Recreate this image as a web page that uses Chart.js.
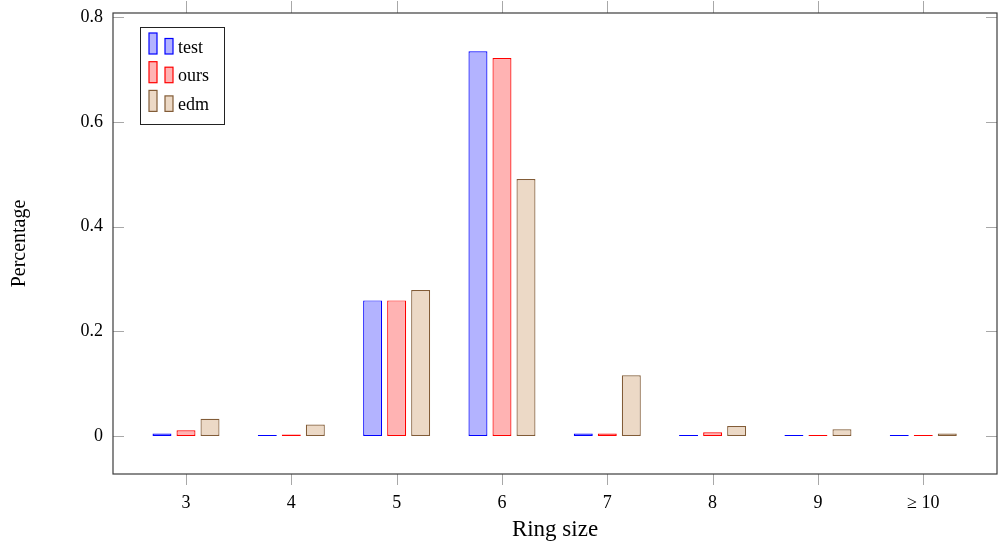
<!DOCTYPE html>
<html><head><meta charset="utf-8">
<script src="https://cdn.jsdelivr.net/npm/chart.js@4"></script>
<style>html,body{margin:0;padding:0;background:#fff}#wrap{width:998px;height:544px}</style>
</head><body><div id="wrap"><canvas id="c" width="998" height="544"></canvas></div>
<script>
const ringSizes = [3, 4, 5, 6, 7, 8, 9, 10];
const categoryLabels = ['3', '4', '5', '6', '7', '8', '9', '≥ 10'];
const testValues = [0.005, 0.001, 0.259, 0.735, 0.005, 0.001, 0.001, 0.001];
const oursValues = [0.011, 0.003, 0.259, 0.722, 0.005, 0.007, 0.001, 0.001];
const edmValues  = [0.033, 0.022, 0.279, 0.491, 0.116, 0.019, 0.013, 0.005];
const yTickValues = [0, 0.2, 0.4, 0.6, 0.8];
const yTickLabels = ['0', '0.2', '0.4', '0.6', '0.8'];
const seriesNames = ['test', 'ours', 'edm'];

const FONT = "'Liberation Serif', 'Times New Roman', serif";
const fills = ['rgb(179,179,255)', 'rgb(255,179,179)', 'rgb(236,217,198)'];
const borders = ['rgb(0,0,255)', 'rgb(255,0,0)', 'rgb(130,92,55)'];

function toPoints(vals) { return ringSizes.map((x, i) => ({ x: x, y: vals[i] })); }

const frameAndTicks = {
  id: 'frameAndTicks',
  afterDraw(chart) {
    const { ctx, chartArea: a, scales } = chart;
    ctx.save();
    ctx.strokeStyle = '#a8a8a8';
    ctx.lineWidth = 1;
    ctx.beginPath();
    yTickValues.forEach(v => {
      const y = Math.round(scales.y.getPixelForValue(v)) + 0.5;
      ctx.moveTo(a.left, y); ctx.lineTo(a.left + 11, y);
      ctx.moveTo(a.right - 11, y); ctx.lineTo(a.right, y);
    });
    ringSizes.forEach(v => {
      const x = Math.round(scales.x.getPixelForValue(v)) + 0.5;
      ctx.moveTo(x, a.top - 12); ctx.lineTo(x, a.top);
      ctx.moveTo(x, a.bottom); ctx.lineTo(x, a.bottom + 11);
    });
    ctx.stroke();
    ctx.strokeStyle = '#3c3c3c';
    ctx.lineWidth = 1.2;
    ctx.strokeRect(a.left, a.top, a.right - a.left, a.bottom - a.top);

    // legend
    const lx = a.left + 27, ly = a.top + 14;
    ctx.strokeStyle = '#222';
    ctx.lineWidth = 1;
    ctx.strokeRect(lx + 0.5, ly + 0.5, 84, 97);
    ctx.font = '18px ' + FONT;
    ctx.textBaseline = 'alphabetic';
    ctx.textAlign = 'left';
    seriesNames.forEach((name, i) => {
      const oy = ly + i * 28.7;
      ctx.fillStyle = fills[i];
      ctx.strokeStyle = borders[i];
      ctx.lineWidth = 1.2;
      ctx.fillRect(lx + 9, oy + 6, 8, 21);
      ctx.strokeRect(lx + 9, oy + 6, 8, 21);
      ctx.fillRect(lx + 25, oy + 11.5, 8, 15.5);
      ctx.strokeRect(lx + 25, oy + 11.5, 8, 15.5);
      ctx.fillStyle = '#000';
      ctx.fillText(name, lx + 38, oy + 25.5);
    });
    ctx.restore();
  }
};

const datasets = [testValues, oursValues, edmValues].map((vals, i) => ({
  label: seriesNames[i],
  data: toPoints(vals),
  backgroundColor: fills[i],
  borderColor: borders[i],
  borderWidth: 1.2,
  borderSkipped: false,
  minBarLength: 1,
  categoryPercentage: 0.684,
  barPercentage: 0.79
}));

new Chart(document.getElementById('c'), {
  type: 'bar',
  data: { datasets: datasets },
  options: {
    responsive: false,
    animation: false,
    devicePixelRatio: 1,
    layout: { padding: { top: 13, right: 1, left: 0, bottom: 0 } },
    plugins: { legend: { display: false }, tooltip: { enabled: false } },
    scales: {
      x: {
        type: 'linear',
        min: 2.307,
        max: 10.70,
        offset: false,
        grid: { display: false, drawTicks: false, offset: false },
        border: { display: false },
        afterBuildTicks: s => { s.ticks = ringSizes.map(v => ({ value: v })); },
        afterFit: s => { s.height = 70; s.paddingLeft = 0; s.paddingRight = 0; },
        ticks: {
          padding: 18,
          color: '#000',
          font: { family: FONT, size: 18 },
          maxRotation: 0,
          autoSkip: false,
          callback: v => categoryLabels[ringSizes.indexOf(v)]
        },
        title: {
          display: true,
          text: 'Ring size',
          color: '#000',
          font: { family: FONT, size: 23 },
          padding: { top: 0, bottom: 0 }
        }
      },
      y: {
        type: 'linear',
        min: -0.0726,
        max: 0.808,
        grid: { display: false, drawTicks: false },
        border: { display: false },
        afterBuildTicks: s => { s.ticks = yTickValues.map(v => ({ value: v })); },
        afterFit: s => { s.width = 113; s.paddingTop = 0; s.paddingBottom = 0; },
        ticks: {
          padding: 10,
          color: '#000',
          font: { family: FONT, size: 18 },
          callback: v => yTickLabels[yTickValues.indexOf(v)]
        },
        title: {
          display: true,
          text: 'Percentage',
          color: '#000',
          font: { family: FONT, size: 20 },
          padding: { top: 8, bottom: 0 }
        }
      }
    }
  },
  plugins: [frameAndTicks]
});
</script>
</body></html>
